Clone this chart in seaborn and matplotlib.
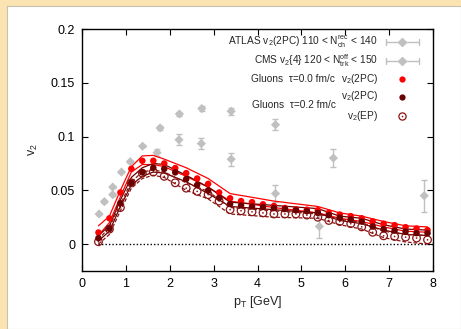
import matplotlib
matplotlib.use("Agg")
import matplotlib.pyplot as plt
import seaborn as sns
import pandas as pd
from matplotlib.patches import Rectangle

# ---------------- data ----------------
atlas_pt = [0.39, 0.51, 0.70, 0.90, 1.10, 1.38, 1.78, 2.22, 2.73, 3.40, 4.41, 5.73, 7.80]
atlas_v2 = [0.028, 0.0395, 0.053, 0.067, 0.0766, 0.091, 0.108, 0.121, 0.126, 0.1235, 0.111, 0.080, 0.045]
atlas_err = [0.001, 0.001, 0.001, 0.001, 0.001, 0.001, 0.0015, 0.002, 0.002, 0.003, 0.005, 0.008, 0.015]

cms_pt = [0.70, 1.71, 2.21, 2.72, 3.40, 4.41, 5.41]
cms_v2 = [0.046, 0.085, 0.097, 0.0935, 0.079, 0.047, 0.0164]
cms_err = [0.001, 0.003, 0.005, 0.005, 0.006, 0.008, 0.011]

gl_pt = [0.375, 0.625, 0.875, 1.125, 1.375, 1.625, 1.875, 2.125, 2.375, 2.625,
         2.875, 3.125, 3.375, 3.625, 3.875, 4.125, 4.375, 4.625, 4.875, 5.125,
         5.375, 5.625, 5.875, 6.125, 6.375, 6.625, 6.875, 7.125, 7.375, 7.625, 7.875]
tau0_2pc = [0.0108, 0.024, 0.048, 0.070, 0.0775, 0.0775, 0.075, 0.0707, 0.066, 0.061,
            0.056, 0.048, 0.0426, 0.040, 0.039, 0.037, 0.0355, 0.0336, 0.0324, 0.032,
            0.0315, 0.029, 0.0275, 0.026, 0.024, 0.021, 0.019, 0.0176, 0.0157, 0.0145, 0.013]
tau02_2pc = [0.0056, 0.0145, 0.038, 0.057, 0.0667, 0.071, 0.070, 0.0667, 0.0605, 0.055,
             0.050, 0.043, 0.0373, 0.036, 0.035, 0.0346, 0.0336, 0.0327, 0.0315, 0.0306,
             0.029, 0.0269, 0.0247, 0.023, 0.021, 0.0164, 0.0139, 0.0127, 0.0117, 0.0102, 0.0102]
tau02_ep = [0.0022, 0.0139, 0.034, 0.057, 0.066, 0.067, 0.063, 0.057, 0.052, 0.049,
            0.046, 0.040, 0.032, 0.031, 0.030, 0.029, 0.028, 0.028, 0.028, 0.027,
            0.025, 0.022, 0.021, 0.019, 0.016, 0.011, 0.0077, 0.0071, 0.0065, 0.0056, 0.004]

band_pt = [0.375, 0.625, 0.875, 1.125, 1.375, 1.625, 1.875, 2.375, 2.875, 3.375,
           4.375, 5.375, 5.875, 6.375, 6.875, 7.375, 7.875]
tau0_hi = [0.017, 0.026, 0.050, 0.072, 0.082, 0.0825, 0.079, 0.071, 0.061, 0.047,
           0.040, 0.035, 0.029, 0.026, 0.021, 0.017, 0.016]
tau0_lo = [0.008, 0.020, 0.044, 0.067, 0.074, 0.074, 0.072, 0.063, 0.053, 0.040,
           0.034, 0.029, 0.024, 0.021, 0.016, 0.012, 0.011]
tau02_hi = [0.008, 0.017, 0.041, 0.062, 0.071, 0.075, 0.074, 0.064, 0.053, 0.039,
            0.036, 0.033, 0.026, 0.024, 0.018, 0.014, 0.013]
tau02_lo = [0.003, 0.012, 0.035, 0.055, 0.063, 0.067, 0.066, 0.058, 0.047, 0.035,
            0.032, 0.029, 0.022, 0.019, 0.013, 0.009, 0.008]
ep_hi = [0.004, 0.016, 0.037, 0.058, 0.067, 0.069, 0.067, 0.057, 0.049, 0.034,
         0.031, 0.028, 0.023, 0.020, 0.012, 0.009, 0.008]
ep_lo = [0.000, 0.009, 0.031, 0.052, 0.061, 0.064, 0.062, 0.050, 0.042, 0.028,
         0.025, 0.024, 0.018, 0.014, 0.006, 0.002, 0.000]

x_ticks = [0, 1, 2, 3, 4, 5, 6, 7, 8]
y_ticks = [0, 0.05, 0.1, 0.15, 0.2]
y_tick_labels = ["0", "0.05", "0.1", "0.15", "0.2"]

# ---------------- style ----------------
sns.set_style("ticks")
plt.rcParams["font.family"] = ["Liberation Sans", "DejaVu Sans"]

RED = "#ff0000"
DARK = "#6a0000"
EPC = "#8a1414"
GRAY = "#c0c0c0"

fig = plt.figure(figsize=(4.61, 3.29), dpi=100)
fig.patch.set_facecolor("#fbe3b2")
bg = fig.add_axes([7 / 461, 0, 1 - 7 / 461, 1 - 6 / 329], zorder=-5)
bg.set_facecolor("white")
bg.set_xticks([])
bg.set_yticks([])
for s in bg.spines.values():
    s.set_color("#c8c0b0")
    s.set_linewidth(0.8)

ax = fig.add_axes([82 / 461, 1 - 271 / 329, 351 / 461, 242 / 329], zorder=1)
ax.set_facecolor("white")

# zero line
ax.axhline(0, xmin=0.375 / 8, xmax=1, color="black", linestyle=(0, (1, 1.5)), linewidth=1.0, zorder=1)

# gray data with error bars
ax.errorbar(atlas_pt, atlas_v2, yerr=atlas_err, fmt="none", ecolor=GRAY, elinewidth=1.0,
            capsize=2, capthick=1.0, zorder=2)
ax.errorbar(cms_pt, cms_v2, yerr=cms_err, fmt="none", ecolor=GRAY, elinewidth=1.0,
            capsize=2, capthick=1.0, zorder=2)
sns.scatterplot(x=atlas_pt, y=atlas_v2, marker="D", s=22, color=GRAY, edgecolor="none", ax=ax, zorder=3)
sns.scatterplot(x=cms_pt, y=cms_v2, marker="D", s=22, color=GRAY, edgecolor="none", ax=ax, zorder=3)

# bands
bands = [(tau0_hi, RED, "-"), (tau0_lo, RED, "-"),
         (tau02_hi, DARK, "-"), (tau02_lo, DARK, "-"),
         (ep_hi, EPC, (0, (3, 1.5))), (ep_lo, EPC, (0, (3, 1.5)))]
for vals, col, ls in bands:
    sns.lineplot(x=band_pt, y=vals, color=col, linewidth=0.9, ax=ax, sort=False,
                 estimator=None, zorder=4, linestyle=ls)

# points
sns.scatterplot(x=gl_pt, y=tau0_2pc, color=RED, s=22, edgecolor="none", ax=ax, zorder=6)
sns.scatterplot(x=gl_pt, y=tau02_2pc, color=DARK, s=22, edgecolor="none", ax=ax, zorder=6)
sns.scatterplot(x=gl_pt, y=tau02_ep, facecolor="none", edgecolor=EPC, linewidth=0.9, s=30,
                ax=ax, zorder=5)
sns.scatterplot(x=gl_pt, y=tau02_ep, color=EPC, s=1.5, edgecolor="none", ax=ax, zorder=5)

# axes
ax.set_xlim(0, 8)
ax.set_ylim(-0.025, 0.2)
ax.set_xticks(x_ticks)
ax.set_xticklabels([str(t) for t in x_ticks])
ax.set_yticks(y_ticks)
ax.set_yticklabels(y_tick_labels)
ax.tick_params(direction="in", length=4, width=0.8, top=True, right=True,
               labelsize=9, pad=5, colors="black")
for s in ax.spines.values():
    s.set_linewidth(1.0)
    s.set_color("black")
ax.set_xlabel("p$_\\mathregular{T}$ [GeV]", fontsize=9, labelpad=3)
ax.set_ylabel("v$_\\mathregular{2}$", fontsize=9, labelpad=8)

# manual legend (gnuplot-like)
fs = 7.3
tx = 0.843
hx = 0.912
rows = [0.946, 0.868, 0.793, 0.719, 0.640]
ax.text(tx, rows[0], "ATLAS v$_\\mathregular{2}$(2PC) 110 < N$_\\mathregular{ch}^\\mathregular{rec}$ < 140",
        transform=ax.transAxes, ha="right", va="center", fontsize=fs)
ax.text(tx, rows[1], "CMS v$_\\mathregular{2}${4} 120 < N$_\\mathregular{trk}^\\mathregular{off}$ < 150",
        transform=ax.transAxes, ha="right", va="center", fontsize=fs)
ax.text(tx, rows[2], "v$_\\mathregular{2}$(2PC)", transform=ax.transAxes, ha="right", va="center", fontsize=fs)
ax.text(tx, rows[3] + 0.005, "v$_\\mathregular{2}$(2PC)", transform=ax.transAxes, ha="right", va="center", fontsize=fs)
ax.text(tx, rows[4], "v$_\\mathregular{2}$(EP)", transform=ax.transAxes, ha="right", va="center", fontsize=fs)
ax.text(0.721, rows[2], "Gluons  τ=0.0 fm/c", transform=ax.transAxes, ha="right", va="center", fontsize=fs)
ax.text(0.723, 0.686, "Gluons  τ=0.2 fm/c", transform=ax.transAxes, ha="right", va="center", fontsize=fs)

for r in rows[:2]:
    ax.plot([0.866, 0.960], [r, r], color=GRAY, linewidth=1.0, transform=ax.transAxes, clip_on=False)
    ax.plot([0.866, 0.866], [r - 0.012, r + 0.012], color=GRAY, linewidth=1.0, transform=ax.transAxes)
    ax.plot([0.960, 0.960], [r - 0.012, r + 0.012], color=GRAY, linewidth=1.0, transform=ax.transAxes)
    ax.plot([hx], [r], marker="D", markersize=4, color=GRAY, transform=ax.transAxes)
ax.plot([hx], [rows[2]], marker="o", markersize=4.5, color=RED, markeredgewidth=0, transform=ax.transAxes)
ax.plot([hx], [rows[3]], marker="o", markersize=4.5, color=DARK, markeredgewidth=0, transform=ax.transAxes)
ax.plot([hx], [rows[4]], marker="o", markersize=5.2, markerfacecolor="none", markeredgecolor=EPC,
        markeredgewidth=0.9, transform=ax.transAxes)
ax.plot([hx], [rows[4]], marker="o", markersize=1.2, color=EPC, markeredgewidth=0, transform=ax.transAxes)

fig.savefig("out.png", dpi=100)
